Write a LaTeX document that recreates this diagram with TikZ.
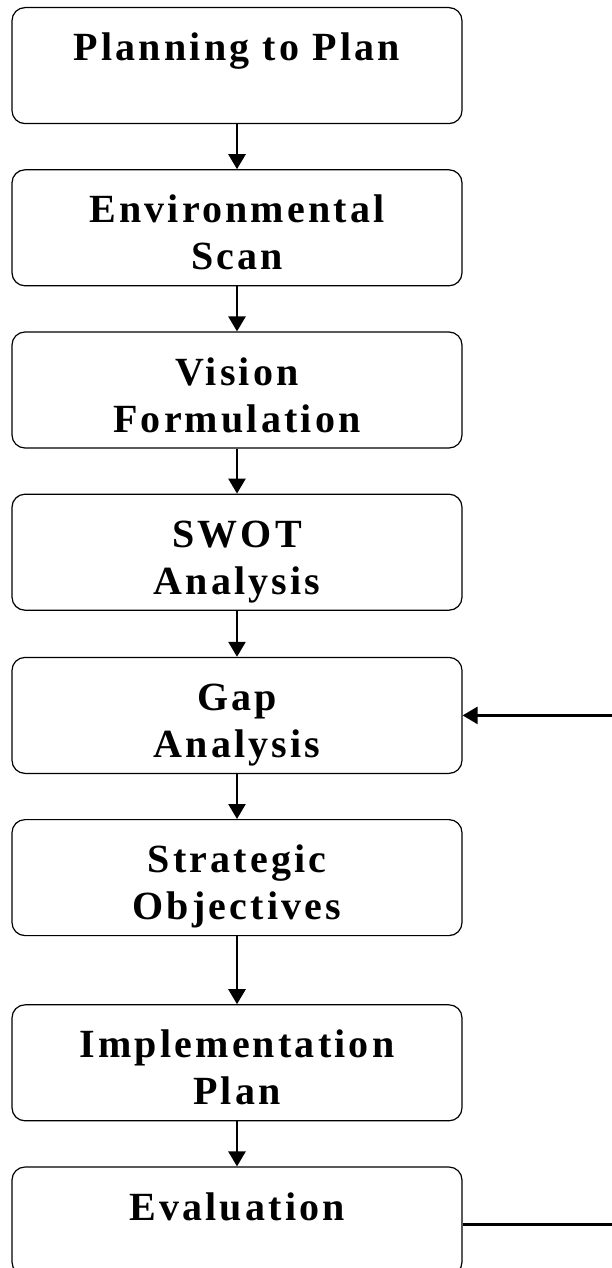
\documentclass[tikz,border=0pt]{standalone}
\usepackage{fontspec}
\usepackage{tikz}
\usetikzlibrary{arrows.meta,positioning}
\newfontfamily\stagefont[LetterSpace=8]{Liberation Serif}

\begin{document}
\begin{tikzpicture}[
        stage/.style={draw, line width=0.6pt, rounded corners=6.5pt, text width=215pt,
            inner xsep=5pt, inner ysep=0pt, align=center, text height=26.5pt, text depth=31.5pt,
            font=\stagefont\bfseries\fontsize{20}{23.5}\selectfont},
        flow/.style={-{Triangle[width=8.5pt,length=7.5pt]}, line width=1.3pt}]
    \useasboundingbox (0,0) rectangle (305.5pt,-634pt);
    \node[stage, anchor=north] (plan) at (118.5pt,-3.5pt) {Planning to Plan};
    \node[stage, below=22.5pt of plan] (scan) {Environmental\\Scan};
    \node[stage, below=22.5pt of scan] (vision) {Vision\\Formulation};
    \node[stage, below=22.5pt of vision] (swot) {SWOT\\Analysis};
    \node[stage, below=23pt of swot] (gap) {Gap\\Analysis};
    \node[stage, below=22.5pt of gap] (objectives) {Strategic\\Objectives};
    \node[stage, below=34pt of objectives] (implement) {Implementation\\Plan};
    \node[stage, below=22.5pt of implement, text depth=27.5pt] (eval) {Evaluation};
    \coordinate (gapfeed) at ([xshift=74.5pt]gap.east);
    \coordinate (evalout) at ([xshift=74.5pt,yshift=-1.5pt]eval.east);
    \draw[flow] (plan) -- (scan);
    \draw[flow] (scan) -- (vision);
    \draw[flow] (vision) -- (swot);
    \draw[flow] (swot) -- (gap);
    \draw[flow] (gap) -- (objectives);
    \draw[flow] (objectives) -- (implement);
    \draw[flow] (implement) -- (eval);
    \draw[flow] (gapfeed) -- (gap.east);
    \draw[line width=1.5pt] ([yshift=-1.5pt]eval.east) -- (evalout);
\end{tikzpicture}
\end{document}
